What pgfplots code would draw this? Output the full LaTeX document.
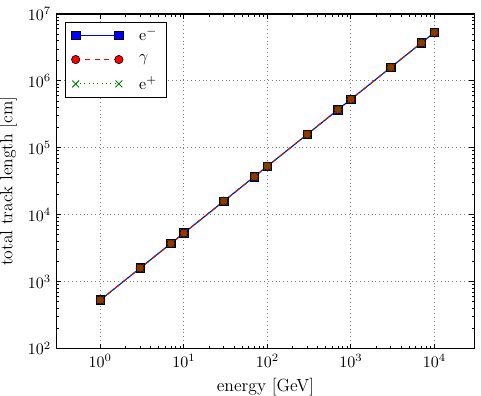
\documentclass[border=0pt]{standalone}
\usepackage{pgfplots}
\pgfplotsset{compat=1.18}
\usetikzlibrary{calc}
\definecolor{mplgreen}{rgb}{0,0.5,0}
\begin{document}
\begin{tikzpicture}
\begin{loglogaxis}[
  scale only axis, width=261pt, height=209pt,
  xmin=0.3, xmax=3e4, ymin=1e2, ymax=1e7,
  xtick={1,10,100,1000,10000},
  ytick={1e2,1e3,1e4,1e5,1e6,1e7},
  grid=major, grid style={dotted, black!50, line width=0.5pt},
  major tick length=3pt, minor tick length=1.6pt,
  every tick/.append style={black, line width=0.5pt},
  axis line style={line width=0.7pt},
  xlabel={energy [GeV]}, ylabel={total track length [cm]},
  label style={font=\fontsize{11}{13}\selectfont},
  tick label style={font=\fontsize{10}{12}\selectfont},
  legend style={at={(0,1)}, anchor=north west, xshift=5pt, yshift=-4.8pt,
    font=\fontsize{10}{12}\selectfont,
    row sep=3.6pt, inner xsep=4pt, inner ysep=1.5pt,
    /tikz/every odd column/.append style={column sep=8pt}},
  legend cell align=left,
  legend image code/.code={\draw[mark repeat=2,mark phase=1] plot coordinates {(0pt,0pt)(13.5pt,0pt)(27pt,0pt)};},
]
\addplot[blue, line width=0.7pt, mark=square*, mark size=2.7pt,
  mark options={fill=blue, draw=black, line width=0.4pt, solid}] coordinates {
(1,530)(3,1590)(7,3710)(10,5300)(30,15900)(70,37100)(100,53000)
(300,159000)(700,371000)(1000,530000)(3000,1590000)(7000,3710000)(10000,5300000)
};
\addlegendentry{e$^-$}
\addplot[red, dashed, line width=0.7pt, mark=*, mark size=2.6pt,
  mark options={fill=red, draw=black, line width=0.4pt, solid}] coordinates {
(1,530)(3,1590)(7,3710)(10,5300)(30,15900)(70,37100)(100,53000)
(300,159000)(700,371000)(1000,530000)(3000,1590000)(7000,3710000)(10000,5300000)
};
\addlegendentry{$\gamma$}
\addplot[mplgreen, dotted, line width=0.7pt, mark=x, mark size=3pt,
  mark options={mplgreen, line width=0.6pt, solid}] coordinates {
(1,530)(3,1590)(7,3710)(10,5300)(30,15900)(70,37100)(100,53000)
(300,159000)(700,371000)(1000,530000)(3000,1590000)(7000,3710000)(10000,5300000)
};
\addlegendentry{e$^+$}
\end{loglogaxis}
\pgfresetboundingbox
\path ($(current axis.south west)+(-35.4pt,-29.4pt)$) rectangle ($(current axis.north east)+(4.2pt,8.75pt)$);
\end{tikzpicture}
\end{document}
